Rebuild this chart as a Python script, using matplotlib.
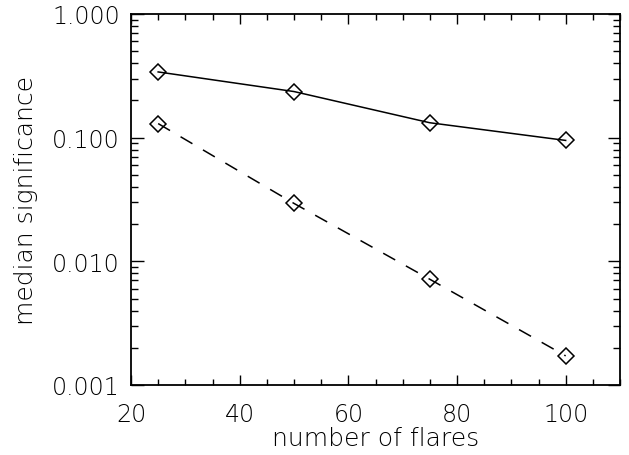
import matplotlib
matplotlib.use("Agg")
import matplotlib.pyplot as plt
from matplotlib.ticker import FixedLocator, LogLocator, FormatStrFormatter, NullFormatter

# data
n_flares = [25, 50, 75, 100]
sig_solid = [0.34, 0.236, 0.132, 0.095]
sig_dashed = [0.130, 0.0294, 0.00716, 0.00172]

plt.rcParams['font.family'] = ['DejaVu Sans']
plt.rcParams['font.weight'] = 'light'
plt.rcParams['axes.labelweight'] = 'light'

fig = plt.figure(figsize=(6.29, 4.56), dpi=100)
ax = fig.add_axes([131 / 629, 70 / 456, 489 / 629, 371 / 456])

ax.plot(n_flares, sig_solid, color='black', lw=1.1, marker='D', ms=8,
        mfc='none', mec='black', mew=1.1)
ax.plot(n_flares, sig_dashed, color='black', lw=1.1, dashes=(9, 8), marker='D', ms=8,
        mfc='none', mec='black', mew=1.1)

ax.set_yscale('log')
ax.set_xlim(20, 110)
ax.set_ylim(0.001, 1.0)

ax.xaxis.set_major_locator(FixedLocator([20, 40, 60, 80, 100]))
ax.xaxis.set_minor_locator(FixedLocator(range(20, 111, 5)))
ax.yaxis.set_major_locator(LogLocator(base=10, numticks=10))
ax.yaxis.set_minor_locator(LogLocator(base=10, subs=range(2, 10), numticks=10))
ax.yaxis.set_major_formatter(FormatStrFormatter('%.3f'))
ax.yaxis.set_minor_formatter(NullFormatter())

ax.tick_params(which='both', direction='in', top=True, right=True, width=1,
               labelsize=17, pad=8, labelcolor='black')
ax.tick_params(which='major', length=9)
ax.tick_params(which='minor', length=5)
ax.tick_params(axis='x', which='major', length=7, pad=12)
ax.tick_params(axis='x', which='minor', length=4)

for s in ax.spines.values():
    s.set_linewidth(1.3)

ax.set_xlabel("number of flares", fontsize=18, fontweight='light', labelpad=0)
ax.set_ylabel("median significance", fontsize=18, fontweight='light', labelpad=10)

fig.savefig("out.png", dpi=100)
